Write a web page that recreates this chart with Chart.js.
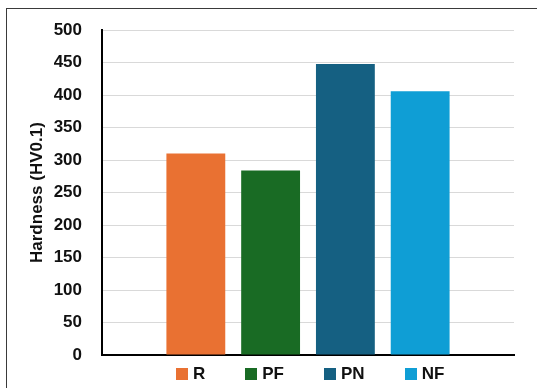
<!DOCTYPE html>
<html>
<head>
<meta charset="utf-8">
<script src="https://cdn.jsdelivr.net/npm/chart.js@4.4.1/dist/chart.umd.min.js"></script>
<style>
  html, body { margin: 0; padding: 0; background: #fff; overflow: hidden; }
  #wrap { position: relative; width: 537px; height: 388px; }
  #frame { position: absolute; left: 6px; top: 8px; width: 560px; height: 420px;
           border: 1px solid #3a3a3a; box-sizing: border-box; }
  #chart { position: absolute; left: 0; top: 0; }
  #legend { position: absolute; left: 176px; top: 368px; display: flex; align-items: center;
            font: bold 17px "Liberation Sans", Arial, sans-serif; color: #111; }
  #legend .item { display: flex; align-items: center; margin-right: 40px; height: 12px; }
  #legend .box { width: 12px; height: 12px; margin-right: 5px; }
</style>
</head>
<body>
<div id="wrap">
  <div id="frame"></div>
  <canvas id="chart" width="537" height="388"></canvas>
  <div id="legend"></div>
</div>
<script>
// Samples and their Vickers hardness (HV0.1)
const samples = ['R', 'PF', 'PN', 'NF'];
const hardness = [310, 284, 448, 406];
const sampleColors = ['#E97132', '#196B24', '#156082', '#0F9ED5'];

// Y axis range
const yMin = 0;
const yMax = 500;
const yStep = 50;

const FONT = '"Liberation Sans", Arial, sans-serif';

const datasets = samples.map((name, i) => ({
  label: name,
  data: [hardness[i]],
  backgroundColor: sampleColors[i],
  borderWidth: 0,
  barPercentage: 0.787,
  categoryPercentage: 0.726
}));

const chart = new Chart(document.getElementById('chart'), {
  type: 'bar',
  data: { labels: [''], datasets },
  options: {
    responsive: false,
    animation: false,
    devicePixelRatio: 1,
    layout: { padding: { top: 28, right: 23, bottom: 33, left: 0 } },
    plugins: {
      legend: { display: false },
      tooltip: { enabled: false }
    },
    scales: {
      x: {
        grid: { display: false, drawTicks: false },
        border: { display: true, color: '#000', width: 2 },
        ticks: { display: false },
        afterFit: (scale) => { scale.height = 0; }
      },
      y: {
        min: yMin,
        max: yMax,
        grid: { color: '#d9d9d9', lineWidth: 1, drawTicks: false },
        border: { display: true, color: '#000', width: 2 },
        ticks: {
          stepSize: yStep,
          padding: 20,
          color: '#111',
          font: { family: FONT, size: 17, weight: 'bold' }
        },
        title: {
          display: true,
          text: 'Hardness (HV0.1)',
          color: '#111',
          padding: { top: 27, bottom: 0 },
          font: { family: FONT, size: 17, weight: 'bold' }
        },
        afterFit: (scale) => { scale.width = 102; }
      }
    }
  }
});

// Legend row built from the chart's datasets
const legendEl = document.getElementById('legend');
chart.data.datasets.forEach((ds) => {
  const item = document.createElement('div');
  item.className = 'item';
  const box = document.createElement('span');
  box.className = 'box';
  box.style.background = ds.backgroundColor;
  const txt = document.createElement('span');
  txt.textContent = ds.label;
  item.appendChild(box);
  item.appendChild(txt);
  legendEl.appendChild(item);
});
</script>
</body>
</html>
